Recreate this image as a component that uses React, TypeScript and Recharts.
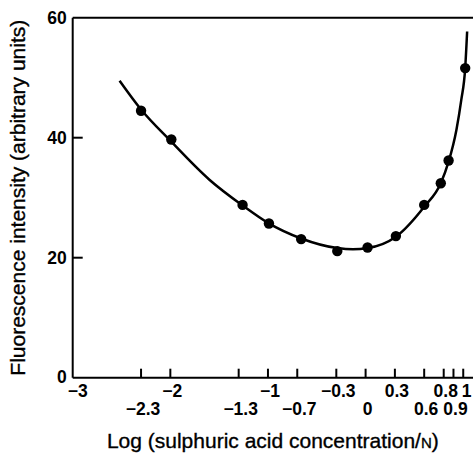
import React from 'react';
import { ComposedChart, Line, Scatter, XAxis, YAxis, ReferenceLine } from 'recharts';

// Measured points (log concentration, fluorescence intensity)
const pointX = [-2.3, -1.99, -1.26, -0.99, -0.66, -0.29, 0.02, 0.31, 0.6, 0.77, 0.85, 1.02];
const pointY = [44.5, 39.7, 28.8, 25.7, 23.1, 21.1, 21.7, 23.6, 28.8, 32.4, 36.2, 51.6];

// Fitted curve
const curveX = [-2.52, -2.3, -2.0, -1.6, -1.26, -1.0, -0.66, -0.29, -0.13, 0.02, 0.31, 0.6, 0.77, 0.85, 0.93, 0.98, 1.02, 1.04];
const curveY = [49.5, 44.7, 39.5, 33.0, 28.7, 25.8, 23.2, 21.6, 21.4, 21.6, 23.5, 28.5, 32.4, 36.0, 41.3, 46.3, 51.6, 57.7];

const xTicksTop = [-3, -2, -1, -0.3, 0.3, 0.8, 1];
const xTicksBottom = [-2.3, -1.3, -0.7, 0, 0.6, 0.9];
const yTicks = [0, 20, 40, 60];

const points = pointX.map((x, i) => ({ x, y: pointY[i] }));
const curve = curveX.map((x, i) => ({ x, y: curveY[i] }));
const allXTicks = [...xTicksTop, ...xTicksBottom].sort((a, b) => a - b);

const FONT = '"Liberation Sans", Arial, Helvetica, sans-serif';

const fmt = (v: number) => (v < 0 ? '\u2212' + String(Math.abs(v)) : String(v));

const XTick = (props: any) => {
  const { x, y, payload } = props;
  const v = payload.value;
  const isTop = xTicksTop.includes(v);
  const showLine = v !== -3;
  const shift = v === -3 ? 5 : v === 1 ? 3.5 : 2;
  return (
    <g>
      {showLine && <line x1={x} x2={x} y1={y} y2={y - 9} stroke="#000" strokeWidth={2} />}
      <text
        x={x + shift}
        y={y + (isTop ? 19.5 : 37.5)}
        textAnchor="middle"
        fontFamily={FONT}
        fontWeight="bold"
        fontSize={17.5}
        fill="#000"
      >
        {fmt(v)}
      </text>
    </g>
  );
};

const YTick = (props: any) => {
  const { x, y, payload } = props;
  const v = payload.value;
  return (
    <g>
      {v !== 0 && v !== 60 && <line x1={x} x2={x + 10} y1={y} y2={y} stroke="#000" strokeWidth={2} />}
      <text
        x={x - 6}
        y={y + (v === 0 ? 5.5 : 6.5)}
        textAnchor="end"
        fontFamily={FONT}
        fontWeight="bold"
        fontSize={17.5}
        fill="#000"
      >
        {v}
      </text>
    </g>
  );
};

const XTitle = (props: any) => {
  const vb = props.viewBox || {};
  const cx = vb.x + vb.width / 2;
  return (
    <text
      x={cx}
      y={vb.y + 70}
      textAnchor="middle"
      fontFamily={FONT}
      fontSize={21}
      fill="#000"
      stroke="#000"
      strokeWidth={0.35}
    >
      Log (sulphuric acid concentration/<tspan fontSize={15}>N</tspan>)
    </text>
  );
};

const YTitle = (props: any) => {
  const vb = props.viewBox || {};
  const cy = vb.y + vb.height / 2;
  const cx = 18;
  return (
    <text
      x={cx}
      y={cy}
      transform={`rotate(-90, ${cx}, ${cy})`}
      textAnchor="middle"
      dominantBaseline="central"
      fontFamily={FONT}
      fontSize={21}
      fill="#000"
      stroke="#000"
      strokeWidth={0.35}
    >
      Fluorescence intensity (arbitrary units)
    </text>
  );
};

const Dot = (props: any) => {
  const { cx, cy } = props;
  return <circle cx={cx} cy={cy} r={5.2} fill="#000" />;
};

export default function App() {
  return (
    <div style={{ position: 'absolute', left: 0, top: 0, background: '#fff' }}>
      <ComposedChart width={473} height={454} margin={{ top: 17.7, right: 0, bottom: 0, left: 0 }}>
        <XAxis
          type="number"
          dataKey="x"
          domain={[-3, 1.1]}
          ticks={allXTicks}
          interval={0}
          allowDataOverflow
          height={76.3}
          tickLine={false}
          tickSize={0}
          tickMargin={0}
          axisLine={{ stroke: '#000', strokeWidth: 2 }}
          tick={<XTick />}
          label={<XTitle />}
        />
        <YAxis
          type="number"
          dataKey="y"
          domain={[0, 60]}
          ticks={yTicks}
          interval={0}
          width={72.7}
          tickLine={false}
          tickSize={0}
          tickMargin={0}
          axisLine={{ stroke: '#000', strokeWidth: 2 }}
          tick={<YTick />}
          label={<YTitle />}
        />
        <ReferenceLine y={60} stroke="#000" strokeWidth={2} />
        <Line
          data={curve}
          dataKey="y"
          type="monotone"
          stroke="#000"
          strokeWidth={2.5}
          dot={false}
          activeDot={false}
          isAnimationActive={false}
        />
        <Scatter data={points} dataKey="y" fill="#000" shape={<Dot />} isAnimationActive={false} />
      </ComposedChart>
    </div>
  );
}
